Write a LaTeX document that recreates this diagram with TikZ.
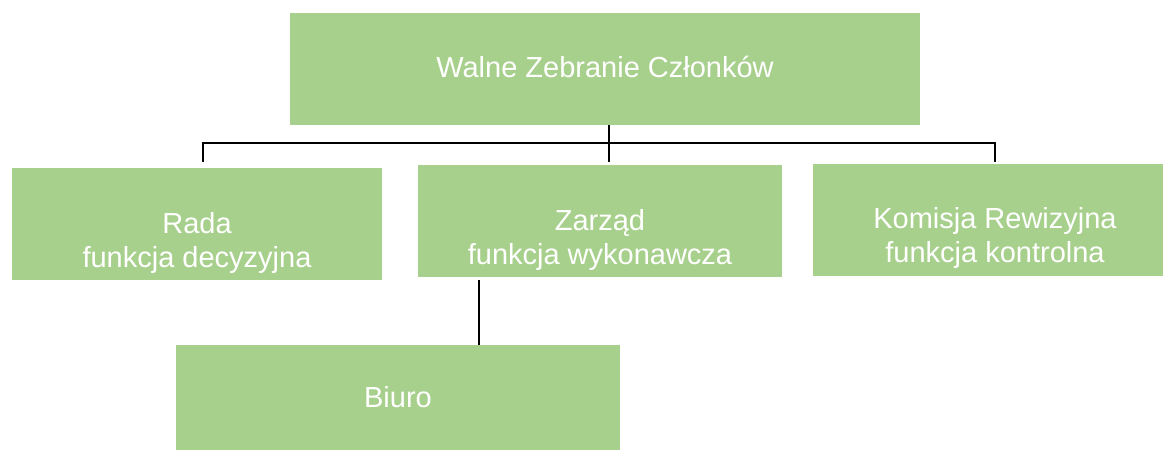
\documentclass[tikz,border=0pt]{standalone}
\usepackage{fontspec}
\setmainfont{Liberation Sans}
\definecolor{boxgreen}{HTML}{A8D08D}
\begin{document}
\begin{tikzpicture}[x = 1pt, y = -1pt,
    box/.style = {fill = boxgreen, minimum height = 112pt, inner sep = 0pt},
    txt/.style = {text = white, align = center, anchor = base, inner sep = 0pt,
                  font = \fontsize{29}{34}\selectfont},
    conn/.style = {line width = 2pt, black}]
      \useasboundingbox (0,0) rectangle (1163,450);

      \node[box, minimum width = 630pt] (wzc) at (605,69) {};
      \node[box, minimum width = 370pt] (rada) at (197,224) {};
      \node[box, minimum width = 364pt] (zarzad) at (600,221) {};
      \node[box, minimum width = 364pt] (komisja) at (995,220) {};
      \node[box, minimum width = 444pt] (biuro) at (398,401) {};

      % base anchor sits on the last line
      \node[txt] (wzct) at (605,77) {Walne Zebranie Członków};
      \node[txt] (radat) at (197,267) {Rada\\funkcja decyzyjna};
      \node[txt] (zarzadt) at (600,264) {Zarząd\\funkcja wykonawcza};
      \node[txt] (komisjat) at (995,262) {Komisja Rewizyjna\\funkcja kontrolna};
      \node[txt] (biurot) at (398,407) {Biuro};

      \coordinate (hub) at (609,143);
      \coordinate (busl) at (203,143);
      \coordinate (busr) at (995,143);
      \coordinate (drop) at (479,310);

      \draw[conn] (wzc.south -| hub) -- ([yshift = 3pt]hub |- zarzad.north);
      \draw[conn] ([yshift = 6pt]busl |- rada.north) -- (busl) -- (busr)
                  -- ([yshift = 2pt]busr |- komisja.north);
      \draw[conn] ([yshift = -3pt]zarzad.south -| drop) -- (drop |- biuro.north);
\end{tikzpicture}
\end{document}
